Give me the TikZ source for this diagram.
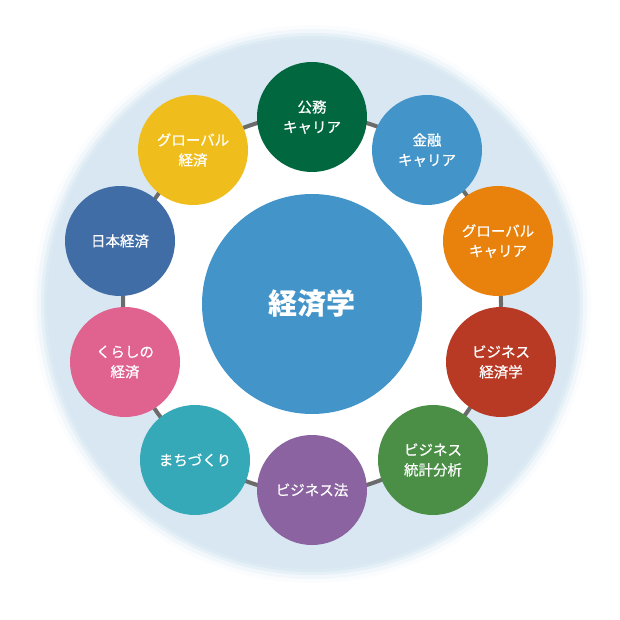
\documentclass[tikz,border=0pt]{standalone}
\usepackage{fontspec}
\setmainfont{Noto Sans CJK JP}
\newfontfamily\medfont[FakeBold=0.7]{Noto Sans CJK JP}
\usepackage{tikz}
\usetikzlibrary{positioning}
\definecolor{bgCol}{HTML}{D8E7F2}
\definecolor{ringCol}{HTML}{6B6B6B}
\definecolor{hubCol}{HTML}{4394C9}
\definecolor{koumuCol}{HTML}{00673F}
\definecolor{kinyuCol}{HTML}{4394C9}
\definecolor{gcarCol}{HTML}{E8820C}
\definecolor{bizecoCol}{HTML}{B83A24}
\definecolor{statCol}{HTML}{4A8F45}
\definecolor{lawCol}{HTML}{8B63A0}
\definecolor{townCol}{HTML}{35A9B8}
\definecolor{lifeCol}{HTML}{E0628E}
\definecolor{jpecoCol}{HTML}{416DA6}
\definecolor{gecoCol}{HTML}{F0BE1C}
\tikzset{
  hub/.style={circle, fill=hubCol, minimum size=220pt, inner sep=0pt, text=white,
              font=\fontsize{29}{34}\selectfont\bfseries},
  topic/.style={circle, fill=#1, minimum size=110pt, inner sep=0pt, text=white,
                align=center, font=\medfont\fontsize{14.5}{20}\selectfont},
  ring/.style={draw=ringCol, line width=4pt},
}

\begin{document}
\begin{tikzpicture}[x=1pt,y=-1pt]
  \useasboundingbox (0,0) rectangle (620,620);
  \coordinate (o) at (312,304);
  % backdrop
  \foreach \r/\op in {279/0.12,275/0.25,271/0.45,268/0.7}{\fill[bgCol,opacity=\op] (o) circle (\r);}
  \fill[bgCol] (o) circle (265);
  \fill[white] (o) circle (189);
  \draw[ring] (o) circle (189);

  % centre
  \node[hub] (keizai) at (o) {経済学};

  % topics, clockwise from top
  \node[topic=koumuCol]  (koumu)  at (312,117) {公務\\キャリア};
  \node[topic=kinyuCol]  (kinyu)  at (427,150) {金融\\キャリア};
  \node[topic=gcarCol]   (gcar)   at (498,241) {グローバル\\キャリア};
  \node[topic=bizecoCol] (bizeco) at (501,362) {ビジネス\\経済学};
  \node[topic=statCol]   (stat)   at (433,460) {ビジネス\\統計分析};
  \node[topic=lawCol]    (law)    at (312,490) {ビジネス法};
  \node[topic=townCol]   (town)   at (195,460) {まちづくり};
  \node[topic=lifeCol]   (life)   at (125,362) {くらしの\\経済};
  \node[topic=jpecoCol]  (jpeco)  at (120,241) {日本経済};
  \node[topic=gecoCol]   (geco)   at (193,150) {グローバル\\経済};
\end{tikzpicture}
\end{document}
